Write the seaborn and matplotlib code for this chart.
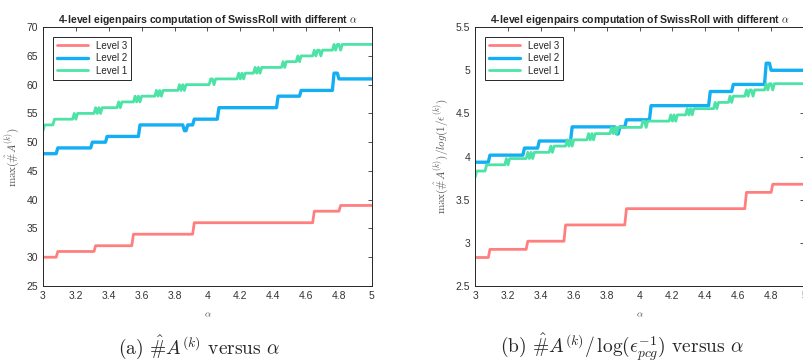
import numpy as np
import pandas as pd
import matplotlib.pyplot as plt
import seaborn as sns

# step data: alpha where the value changes, and the new value
lvl3_at = [3.00, 3.09, 3.32, 3.55, 3.92, 4.65, 4.81]
lvl3_val = [30, 31, 32, 34, 36, 38, 39]

lvl2_at = [3.00, 3.09, 3.30, 3.39, 3.59, 3.86, 3.88, 3.92, 4.07, 4.43, 4.57, 4.77, 4.80]
lvl2_val = [48, 49, 50, 51, 53, 52, 53, 54, 56, 58, 59, 62, 61]

lvl1_at = [3.00, 3.01, 3.07, 3.19, 3.20, 3.21, 3.32, 3.33, 3.34, 3.35, 3.36, 3.46, 3.47,
           3.48, 3.56, 3.57, 3.58, 3.59, 3.60, 3.69, 3.70, 3.71, 3.72, 3.73, 3.83, 3.84,
           3.85, 3.86, 3.87, 4.02, 4.04, 4.05, 4.19, 4.20, 4.21, 4.22, 4.23, 4.29, 4.30,
           4.31, 4.32, 4.33, 4.46, 4.47, 4.48, 4.55, 4.56, 4.57, 4.65, 4.66, 4.67, 4.69,
           4.70, 4.77, 4.78, 4.79, 4.81, 4.82]
lvl1_val = [52, 53, 54, 55, 54, 55, 56, 55, 56, 55, 56, 57, 56,
            57, 58, 57, 58, 57, 58, 59, 58, 59, 58, 59, 60, 59,
            60, 59, 60, 61, 60, 61, 62, 61, 62, 61, 62, 63, 62,
            63, 62, 63, 64, 63, 64, 65, 64, 65, 66, 65, 66, 65,
            66, 67, 66, 67, 66, 67]

# log(1/eps^(k)) per level
log_eps = {"Level 3": 10.6, "Level 2": 12.2, "Level 1": 13.83}

alpha = np.round(np.arange(3.0, 5.0001, 0.01), 2)


def expand(at, val):
    idx = np.searchsorted(np.array(at), alpha + 1e-9, side="right") - 1
    return np.array(val)[idx]


rows = []
for name, at, val in [("Level 3", lvl3_at, lvl3_val),
                      ("Level 2", lvl2_at, lvl2_val),
                      ("Level 1", lvl1_at, lvl1_val)]:
    v = expand(at, val)
    rows.append(pd.DataFrame({"alpha": alpha, "count": v,
                              "ratio": v / log_eps[name], "level": name}))
df = pd.concat(rows, ignore_index=True)

sns.set_style("white")
plt.rcParams["font.family"] = ["Liberation Sans", "DejaVu Sans"]
plt.rcParams["mathtext.fontset"] = "cm"
palette = {"Level 3": "#ff7f7f", "Level 2": "#14aef5", "Level 1": "#4de3a6"}
widths = {"Level 3": 2.0, "Level 2": 2.4, "Level 1": 2.0}

fig = plt.figure(figsize=(8.04, 3.6), dpi=100)
ax1 = fig.add_axes([0.0535, 0.2056, 0.409, 0.719])
ax2 = fig.add_axes([0.591, 0.2056, 0.409, 0.719])

title = r"4-level eigenpairs computation of SwissRoll with different $\alpha$"
for ax, col, ylim, yticks, ylab in [
        (ax1, "count", (25, 70), np.arange(25, 71, 5), r"$\max(\hat{\#}A^{(k)})$"),
        (ax2, "ratio", (2.5, 5.5), np.arange(2.5, 5.6, 0.5),
         r"$\max(\hat{\#}A^{(k)})/log(1/\epsilon^{(k)})$")]:
    sns.lineplot(data=df, x="alpha", y=col, hue="level", palette=palette, ax=ax,
                 hue_order=["Level 3", "Level 2", "Level 1"], estimator=None)
    for line, name in zip(ax.get_lines(), ["Level 3", "Level 2", "Level 1"]):
        line.set_linewidth(widths[name])
    ax.set_xlim(3, 5)
    ax.set_ylim(*ylim)
    ax.set_xticks(np.arange(3, 5.01, 0.2))
    ax.set_xticklabels(["3", "3.2", "3.4", "3.6", "3.8", "4", "4.2", "4.4", "4.6", "4.8", "5"])
    ax.set_yticks(yticks)
    ax.set_yticklabels([f"{t:g}" for t in yticks])
    ax.tick_params(direction="in", top=True, right=True, length=3, labelsize=7.5,
                   colors="#333333", labelcolor="#333333", width=0.6)
    for s in ax.spines.values():
        s.set_color("#262626")
        s.set_linewidth(0.7)
    ax.set_title(title, fontsize=7.6, fontweight="bold", pad=3)
    ax.set_xlabel(r"$\alpha$", fontsize=7, color="#555555", labelpad=6)
    ax.set_ylabel(ylab, fontsize=8, color="#555555", labelpad=4)
    leg = ax.legend(loc="upper left", fontsize=7, handlelength=3.2, fancybox=False,
                    framealpha=1, edgecolor="#262626", borderaxespad=1.0,
                    labelspacing=0.25, borderpad=0.4)
    leg.get_frame().set_linewidth(0.7)
    for h, name in zip(leg.get_lines(), ["Level 3", "Level 2", "Level 1"]):
        h.set_linewidth(widths[name])

fig.text(0.2475, 0.036, r"(a) $\hat{\#}A^{(k)}$ versus $\alpha$", ha="center", va="center",
         fontsize=14, family="cmr10")
fig.text(0.774, 0.036, r"(b) $\hat{\#}A^{(k)}/\,\log(\epsilon_{pcg}^{-1})$ versus $\alpha$",
         ha="center", va="center", fontsize=14, family="cmr10")

fig.savefig("out.png", dpi=100)
